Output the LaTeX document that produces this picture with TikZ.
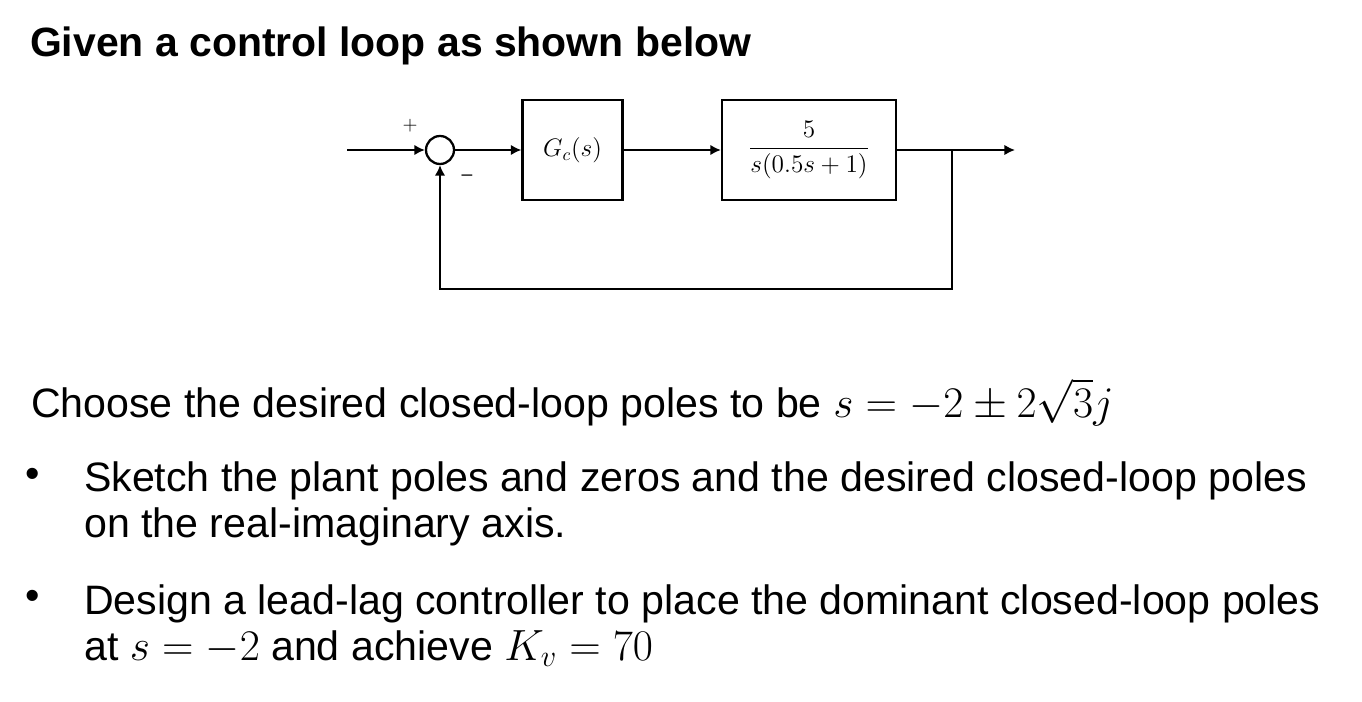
\documentclass[tikz,border=0pt]{standalone}
\usepackage{amsmath}
\usepackage{fontspec}
\setmainfont{Liberation Sans}
\usetikzlibrary{arrows.meta}
\newcommand{\bodymath}[1]{{\fontsize{24.8}{26}\selectfont$#1$}}

\begin{document}
\begin{tikzpicture}[
  x=0.02cm, y=-0.02cm,
  line width=1.3pt,
  sig/.style={-{Latex[length=6pt, width=6pt]}},
  blk/.style={draw, minimum height=2cm, inner sep=0pt, font=\fontsize{14}{16}\selectfont},
  sumnode/.style={draw, circle, minimum size=0.56cm, inner sep=0pt},
  sgn/.style={inner sep=0pt, font=\fontsize{11}{12}\selectfont},
  txt/.style={anchor=base west, inner sep=0pt, font=\fontsize{23.4}{25.8}\selectfont},
  para/.style={txt, align=left},
  ttl/.style={txt, font=\fontsize{23.3}{25}\selectfont\bfseries},
  bul/.style={inner sep=0pt, font=\fontsize{23.4}{25}\selectfont}
]
\useasboundingbox (0,0) rectangle (1362,702);
\node[ttl] (title) at (29,57) {Given a control loop as shown below};

\coordinate (in) at (347,150);
\node[sumnode] (sum) at (440,150) {};
\node[blk, minimum width=2cm] (gc) at (572.5,150) {$G_c(s)$};
\node[blk, minimum width=3.48cm] (plant) at (809,150) {$\dfrac{5}{s(0.5s+1)}$};
\coordinate (branch) at (952,150);
\coordinate (out) at (1015,150);
\coordinate (fb) at (952,289);
\node[sgn] (plus) at (410,126) {$+$};
\node[sgn] (minus) at (467,178) {--};
\draw[sig] (in) -- (sum);
\draw[sig] (sum) -- (gc);
\draw[sig] (gc) -- (plant);
\draw[sig] (plant) -- (out);
\draw[sig] (branch) -- (fb) -| (sum);

\node[txt] (choose) at (30,418) {Choose the desired closed-loop poles to be \bodymath{s=-2\pm2\sqrt{3}j}};
\node[bul] (dot1) at (33,478) {\textbullet};
\node[para] (sketch) at (83,537) {Sketch the plant poles and zeros and the desired closed-loop poles\\on the real-imaginary axis.};
\node[bul] (dot2) at (33,600) {\textbullet};
\node[para] (design) at (83,660) {Design a lead-lag controller to place the dominant closed-loop poles\\at \bodymath{s=-2} and achieve \bodymath{K_v=70}};
\end{tikzpicture}
\end{document}
